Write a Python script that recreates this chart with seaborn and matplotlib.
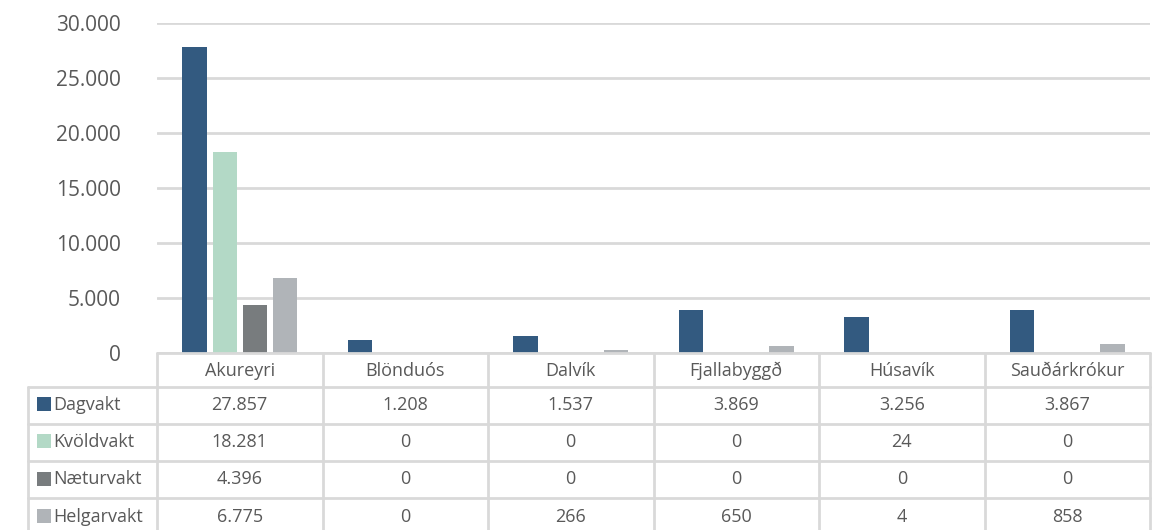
import matplotlib
matplotlib.use("Agg")
import matplotlib.pyplot as plt
import seaborn as sns
import pandas as pd
from matplotlib.ticker import FuncFormatter, MultipleLocator

# ---------------- data ----------------
categories = ["Akureyri", "Blönduós", "Dalvík", "Fjallabyggð", "Húsavík", "Sauðárkrókur"]
series_names = ["Dagvakt", "Kvöldvakt", "Næturvakt", "Helgarvakt"]
dagvakt = [27857, 1208, 1537, 3869, 3256, 3867]
kvoldvakt = [18281, 0, 0, 0, 24, 0]
naeturvakt = [4396, 0, 0, 0, 0, 0]
helgarvakt = [6775, 0, 266, 650, 4, 858]
series_values = [dagvakt, kvoldvakt, naeturvakt, helgarvakt]
colors = ["#335A80", "#B3D9C6", "#787C7E", "#B0B4B8"]

rows = []
for name, vals in zip(series_names, series_values):
    for c, v in zip(categories, vals):
        rows.append({"Staður": c, "Vakt": name, "Fjöldi": v})
df = pd.DataFrame(rows)

def fmt(v):
    return f"{v:,.0f}".replace(",", ".")

# ---------------- figure ----------------
sns.set_theme(style="white")
plt.rcParams["font.family"] = ["Open Sans", "DejaVu Sans"]
TXT = "#595959"
GRID = "#D9D9D9"

W, H = 1170, 530
fig = plt.figure(figsize=(W / 100, H / 100), dpi=100)

x_left, x_right = 157, 1150
y_zero, y_top = 353, 23
tbl_left = 28
unit = (x_right - x_left) / len(categories)

ax = fig.add_axes([x_left / W, (H - y_zero) / H, (x_right - x_left) / W, (y_zero - y_top) / H])
sns.barplot(data=df, x="Staður", y="Fjöldi", hue="Vakt", hue_order=series_names,
            palette=colors, width=0.73, gap=0.2, legend=False, ax=ax,
            saturation=1, linewidth=0)
ax.set_xlim(-0.5, len(categories) - 0.5)
ax.set_ylim(0, 30000)
ax.yaxis.set_major_locator(MultipleLocator(5000))
ax.yaxis.set_major_formatter(FuncFormatter(lambda v, p: fmt(v)))
ax.grid(axis="y", color=GRID, linewidth=2)
ax.set_axisbelow(True)
for s in ax.spines.values():
    s.set_visible(False)
ax.set_xticks([])
ax.set_xlabel("")
ax.set_ylabel("")
ax.tick_params(axis="y", length=0, pad=26, labelsize=15, labelcolor=TXT)

# ---------------- data table ----------------
tax = fig.add_axes([tbl_left / W, 0, (x_right - tbl_left) / W, (H - y_zero) / H])
xmin = -0.5 - (x_left - tbl_left) / unit
tax.set_xlim(xmin, len(categories) - 0.5)
row_edges = [0, 34, 70.5, 108, 145, 182]
tax.set_ylim(H - y_zero, 0)
tax.axis("off")

lw = 2
# horizontal lines
tax.plot([-0.5, len(categories) - 0.5], [row_edges[0]] * 2, color=GRID, lw=lw, clip_on=False)
for e in row_edges[1:5]:
    tax.plot([xmin, len(categories) - 0.5], [e, e], color=GRID, lw=lw, clip_on=False)
# vertical lines
for i in range(len(categories) + 1):
    tax.plot([i - 0.5, i - 0.5], [row_edges[0], row_edges[-1]], color=GRID, lw=lw, clip_on=False)
tax.plot([xmin, xmin], [row_edges[1], row_edges[-1]], color=GRID, lw=lw, clip_on=False)

# header
hy = (row_edges[0] + row_edges[1]) / 2
for i, c in enumerate(categories):
    tax.text(i, hy + 1, c, ha="center", va="center", fontsize=13, color=TXT)

# rows
sq_x = xmin + (44 - tbl_left) / unit
lab_x = xmin + (53 - tbl_left) / unit
for r, (name, vals, col) in enumerate(zip(series_names, series_values, colors)):
    cy = (row_edges[r + 1] + row_edges[r + 2]) / 2
    tax.scatter([sq_x], [cy - 1], marker="s", s=95, color=col, linewidths=0, clip_on=False)
    tax.text(lab_x, cy, name, ha="left", va="center", fontsize=13, color=TXT)
    for i, v in enumerate(vals):
        tax.text(i, cy, fmt(v), ha="center", va="center", fontsize=13, color=TXT)

fig.savefig("out.png", dpi=100)
